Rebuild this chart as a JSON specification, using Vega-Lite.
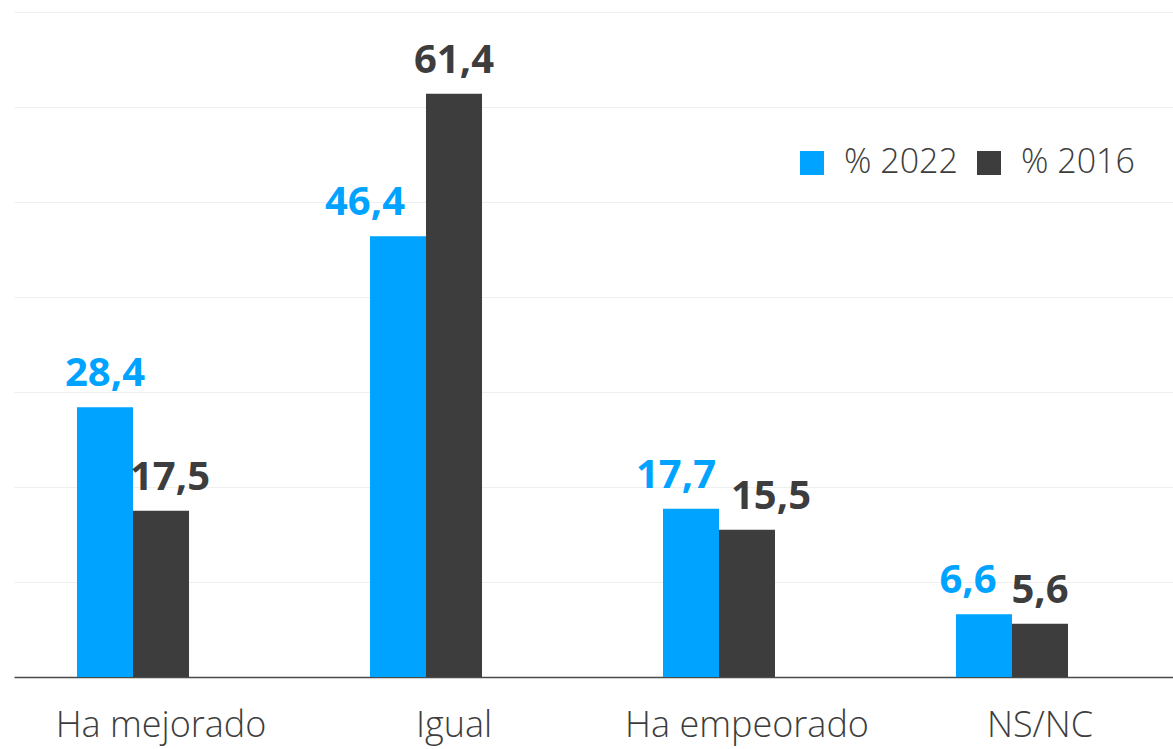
{
  "$schema": "https://vega.github.io/schema/vega-lite/v6.json",
  "width": 1159,
  "height": 665,
  "autosize": {"type": "none"},
  "padding": {"left": 14, "top": 12, "right": 0, "bottom": 72},
  "background": "white",
  "config": {
    "view": {"stroke": null},
    "font": "Open Sans"
  },
  "data": {
    "values": [
      {"cat": "Ha mejorado", "year": "% 2022", "value": 28.4, "label": "28,4"},
      {"cat": "Ha mejorado", "year": "% 2016", "value": 17.5, "label": "17,5"},
      {"cat": "Igual", "year": "% 2022", "value": 46.4, "label": "46,4"},
      {"cat": "Igual", "year": "% 2016", "value": 61.4, "label": "61,4"},
      {"cat": "Ha empeorado", "year": "% 2022", "value": 17.7, "label": "17,7"},
      {"cat": "Ha empeorado", "year": "% 2016", "value": 15.5, "label": "15,5"},
      {"cat": "NS/NC", "year": "% 2022", "value": 6.6, "label": "6,6"},
      {"cat": "NS/NC", "year": "% 2016", "value": 5.6, "label": "5,6"}
    ]
  },
  "encoding": {
    "x": {
      "field": "cat",
      "type": "nominal",
      "sort": ["Ha mejorado", "Igual", "Ha empeorado", "NS/NC"],
      "scale": {"paddingInner": 0.6177, "paddingOuter": 0.2867, "align": 0.375, "round": false},
      "axis": {
        "title": null,
        "domainColor": "#4a4a4a",
        "domainWidth": 1.5,
        "ticks": false,
        "labelAngle": 0,
        "labelFont": "Open Sans",
        "labelFontWeight": 300,
        "labelFontSize": 36,
        "labelColor": "#3d3d3d",
        "labelBaseline": "alphabetic",
        "labelPadding": 59,
        "labelOffset": 28,
        "labelLimit": 0,
        "labelOverlap": false
      }
    },
    "xOffset": {"field": "year", "type": "nominal", "sort": ["% 2022", "% 2016"], "scale": {"paddingInner": 0, "paddingOuter": 0}},
    "y": {
      "field": "value",
      "type": "quantitative",
      "scale": {"domain": [0, 70], "nice": false},
      "axis": {
        "title": null,
        "labels": false,
        "ticks": false,
        "domain": false,
        "values": [10, 20, 30, 40, 50, 60, 70],
        "gridColor": "#efefef",
        "gridWidth": 1.2
      }
    },
    "color": {
      "field": "year",
      "type": "nominal",
      "sort": ["% 2022", "% 2016"],
      "scale": {"domain": ["% 2022", "% 2016"], "range": ["#00A3FF", "#3D3D3D"]},
      "legend": {
        "title": null,
        "orient": "none",
        "legendX": 781,
        "legendY": 134,
        "direction": "horizontal",
        "symbolType": "square",
        "symbolSize": 576,
        "symbolStrokeWidth": 0,
        "labelFont": "Open Sans",
        "labelFontWeight": 300,
        "labelFontSize": 34,
        "labelColor": "#3d3d3d",
        "labelOffset": 15,
        "columnPadding": 14,
        "padding": 0
      }
    }
  },
  "layer": [
    {"mark": {"type": "bar"}},
    {
      "mark": {
        "type": "text",
        "baseline": "alphabetic",
        "align": "center",
        "dy": -21,
        "font": "Open Sans",
        "fontWeight": 700,
        "fontSize": 40,
        "dx": {"expr": "datum.cat == 'Ha mejorado' && datum.year == '% 2016' ? 9 : datum.cat == 'Igual' && datum.year == '% 2022' ? -33 : datum.cat == 'Ha empeorado' && datum.year == '% 2022' ? -15 : datum.cat == 'Ha empeorado' && datum.year == '% 2016' ? 24 : datum.cat == 'NS/NC' && datum.year == '% 2022' ? -16 : 0"}
      },
      "encoding": {"text": {"field": "label"}}
    }
  ]
}
